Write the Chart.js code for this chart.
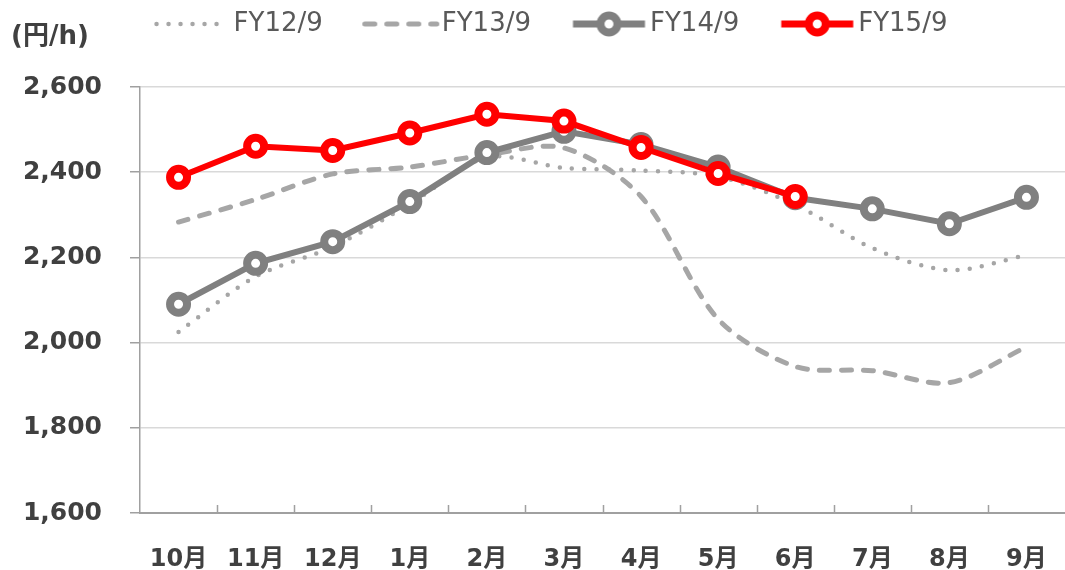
<!DOCTYPE html>
<html>
<head>
<meta charset="utf-8">
<script src="https://cdn.jsdelivr.net/npm/chart.js@4.4.1/dist/chart.umd.min.js"></script>
<style>
  html, body { margin: 0; padding: 0; background: #fff; }
</style>
</head>
<body>
<canvas id="myCanvas" width="1065" height="570"></canvas>
<script>
const months = ["10月", "11月", "12月", "1月", "2月", "3月", "4月", "5月", "6月", "7月", "8月", "9月"];
const seriesNames = ["FY12/9", "FY13/9", "FY14/9", "FY15/9"];
const fy12 = [2025, 2155, 2225, 2325, 2435, 2410, 2404, 2390, 2324, 2222, 2170, 2205];
const fy13 = [2283, 2336, 2396, 2412, 2441, 2457, 2343, 2055, 1944, 1934, 1906, 1990];
const fy14 = [2090, 2186, 2237, 2331, 2446, 2496, 2465, 2412, 2340, 2314, 2279, 2341];
const fy15 = [2388, 2461, 2451, 2492, 2536, 2520, 2458, 2397, 2343, null, null, null];
const yTicks = [1600, 1800, 2000, 2200, 2400, 2600];
const unitText = "(円/h)";

const FONT = "'DejaVu Sans', 'Noto Sans CJK JP', sans-serif";

// small legend pictures: line sample + optional marker
function makeIcon(color, width, dash, marker) {
  const c = document.createElement("canvas");
  c.width = 120;
  c.height = 30;
  const g = c.getContext("2d");
  g.strokeStyle = color;
  g.lineWidth = width;
  g.lineCap = dash ? "round" : "butt";
  g.setLineDash(dash || []);
  g.beginPath();
  g.moveTo(43.5, 15);
  g.lineTo(115.5, 15);
  g.stroke();
  if (marker) {
    g.setLineDash([]);
    g.beginPath();
    g.arc(79.5, 15, 8.5, 0, Math.PI * 2);
    g.fillStyle = "#fff";
    g.fill();
    g.lineWidth = 8;
    g.stroke();
  }
  return c;
}

const legendIcons = [
  makeIcon("#A6A6A6", 4.5, [0, 12], false),
  makeIcon("#A6A6A6", 5, [10, 12], false),
  makeIcon("#808080", 7, null, true),
  makeIcon("#FF0000", 7, null, true)
];

const unitLabel = {
  id: "unitLabel",
  afterDraw(chart) {
    const ctx = chart.ctx;
    ctx.save();
    ctx.font = "bold 26px " + FONT;
    ctx.fillStyle = "#404040";
    ctx.textBaseline = "middle";
    ctx.textAlign = "left";
    ctx.fillText(unitText, 11, 37);
    ctx.restore();
  }
};

// tick marks on the category axis point up into the plot
const innerTicks = {
  id: "innerTicks",
  beforeDatasetsDraw(chart) {
    const x = chart.scales.x;
    const y = chart.scales.y;
    const half = (x.getPixelForValue(1) - x.getPixelForValue(0)) / 2;
    const ctx = chart.ctx;
    ctx.save();
    ctx.strokeStyle = "#A0A0A0";
    ctx.lineWidth = 1.5;
    ctx.beginPath();
    for (let i = 1; i < months.length; i++) {
      const px = Math.round(x.getPixelForValue(i) - half) + 0.5;
      ctx.moveTo(px, y.bottom);
      ctx.lineTo(px, y.bottom - 8);
    }
    ctx.stroke();
    ctx.restore();
  }
};

const legendSpace = {
  id: "legendSpace",
  beforeInit(chart) {
    const fit = chart.legend.fit;
    chart.legend.fit = function () {
      fit.bind(chart.legend)();
      this.height += 40;
    };
  }
};

const ctx = document.getElementById("myCanvas").getContext("2d");
new Chart(ctx, {
  type: "line",
  data: {
    labels: months,
    datasets: [
      {
        label: seriesNames[0],
        data: fy12,
        borderColor: "#A6A6A6",
        borderWidth: 4.5,
        borderDash: [0, 12.3],
        borderCapStyle: "round",
        tension: 0.3,
        pointRadius: 0,
        order: 4
      },
      {
        label: seriesNames[1],
        data: fy13,
        borderColor: "#A6A6A6",
        borderWidth: 5,
        borderDash: [10, 12],
        borderCapStyle: "round",
        tension: 0.3,
        pointRadius: 0,
        order: 3
      },
      {
        label: seriesNames[2],
        data: fy14,
        borderColor: "#808080",
        borderWidth: 6,
        pointRadius: 8.5,
        pointBorderWidth: 8,
        pointBackgroundColor: "#fff",
        pointBorderColor: "#808080",
        tension: 0,
        order: 2
      },
      {
        label: seriesNames[3],
        data: fy15,
        borderColor: "#FF0000",
        borderWidth: 6,
        pointRadius: 8.5,
        pointBorderWidth: 8,
        pointBackgroundColor: "#fff",
        pointBorderColor: "#FF0000",
        tension: 0,
        order: 1
      }
    ]
  },
  options: {
    responsive: false,
    animation: false,
    layout: { autoPadding: false, padding: { left: 0, right: -8, top: 0, bottom: 0 } },
    plugins: {
      tooltip: { enabled: false },
      legend: {
        position: "top",
        labels: {
          usePointStyle: true,
          pointStyleWidth: 95,
          padding: 11,
          color: "#595959",
          font: { family: FONT, size: 26 },
          generateLabels(chart) {
            const items = Chart.defaults.plugins.legend.labels.generateLabels(chart);
            items.sort((a, b) => a.datasetIndex - b.datasetIndex);
            items.forEach((it) => { it.pointStyle = legendIcons[it.datasetIndex]; });
            return items;
          }
        }
      }
    },
    scales: {
      x: {
        offset: true,
        grid: { display: false, drawTicks: false },
        border: { display: true, color: "#A0A0A0", width: 2 },
        ticks: {
          color: "#404040",
          padding: 32,
          maxRotation: 0,
          autoSkip: false,
          font: { family: FONT, size: 24, weight: "bold" }
        },
        afterFit(scale) {
          scale.height = 57;
          scale.paddingLeft = 0;
          scale.paddingRight = 0;
        }
      },
      y: {
        min: yTicks[0],
        max: yTicks[yTicks.length - 1],
        afterBuildTicks(scale) { scale.ticks = yTicks.map((v) => ({ value: v })); },
        grid: { color: "#D9D9D9", lineWidth: 1.5, tickColor: "#A0A0A0", tickLength: 10 },
        border: { display: true, color: "#A0A0A0", width: 1.5 },
        ticks: {
          color: "#404040",
          padding: 28,
          font: { family: FONT, size: 25, weight: "bold" },
          callback: (v) => Number(v).toLocaleString("en-US")
        },
        afterFit(scale) { scale.width = 140; }
      }
    }
  },
  plugins: [legendSpace, innerTicks, unitLabel]
});
</script>
</body>
</html>
